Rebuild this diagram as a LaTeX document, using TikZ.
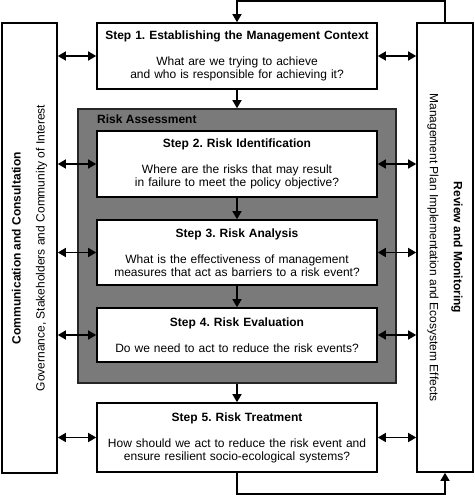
\documentclass[tikz,border=0pt]{standalone}
\usepackage{fontspec}
\setmainfont{Liberation Sans}
\frenchspacing
\usetikzlibrary{arrows.meta}

\begin{document}
\begin{tikzpicture}[x=1pt, y=-1pt,
    every node/.style={font=\fontsize{12}{13}\selectfont},
    stepbox/.style={draw, line width=1.6pt, fill=white, minimum width=280pt,
      text width=272pt, align=center, inner sep=0pt},
    sidebox/.style={draw, line width=1.6pt, fill=white, minimum width=55pt,
      minimum height=450pt},
    arr/.style={line width=1.4pt, -{Triangle[length=8pt, width=9pt]}},
    dblarr/.style={line width=1.4pt, {Triangle[length=8pt, width=9pt]}-{Triangle[length=8pt, width=9pt]}}]
  \useasboundingbox (0,0) rectangle (474,495);

  % Risk assessment block
  \node[draw=black!85, line width=1.6pt, fill=black!52, minimum width=318pt,
    minimum height=274pt] (ra) at (237,246) {};
  \node[anchor=west, inner sep=0pt] (ralabel) at (97,119) {\textbf{Risk Assessment}};

  % Steps
  \node[stepbox, minimum height=66pt] (s1) at (237,56)
    {\textbf{Step 1. Establishing the Management Context}\\[13pt]
     What are we trying to achieve\\ and who is responsible for achieving it?};
  \node[stepbox, minimum height=66pt] (s2) at (237,164)
    {\textbf{Step 2. Risk Identification}\\[13pt]
     Where are the risks that may result\\ in failure to meet the policy objective?};
  \node[stepbox, minimum height=65pt] (s3) at (237,252.5)
    {\textbf{Step 3. Risk Analysis}\\[13pt]
     What is the effectiveness of management\\ measures that act as barriers to a risk event?};
  \node[stepbox, minimum height=54pt] (s4) at (237,335)
    {\textbf{Step 4. Risk Evaluation}\\[13pt]
     Do we need to act to reduce the risk events?};
  \node[stepbox, minimum height=69pt] (s5) at (237,437.5)
    {\textbf{Step 5. Risk Treatment}\\[13pt]
     How should we act to reduce the risk event and\\ ensure resilient socio-ecological systems?};

  % Side boxes
  \node[sidebox] (comm) at (29.5,248) {};
  \node[rotate=90, align=center] (commtext) at (comm)
    {\textbf{Communication and Consultation}\\[11pt]
     Governance, Stakeholders and Community of Interest};
  \node[sidebox, minimum width=56pt, minimum height=449pt] (rev) at (445,247.5) {};
  \node[rotate=-90, align=center] (revtext) at (rev)
    {\textbf{Review and Monitoring}\\[11pt]
     Management Plan Implementation and Ecosystem Effects};

  % Flow
  \draw[arr] (s1) -- (ra);
  \draw[arr] (s2) -- (s3);
  \draw[arr] (s3) -- (s4);
  \draw[arr] (ra) -- (s5);
  \foreach \s in {s1,s2,s3,s4,s5}{
    \draw[dblarr] (comm.east |- \s.west) -- (\s.west);
    \draw[dblarr] (\s.east) -- (rev.west |- \s.east);
  }

  % Feedback loop
  \draw[arr] (s5.south) -- ++(0,21) -| (rev.south);
  \draw[arr] (rev.north) -- ++(0,-21) -| (s1.north);
\end{tikzpicture}
\end{document}
